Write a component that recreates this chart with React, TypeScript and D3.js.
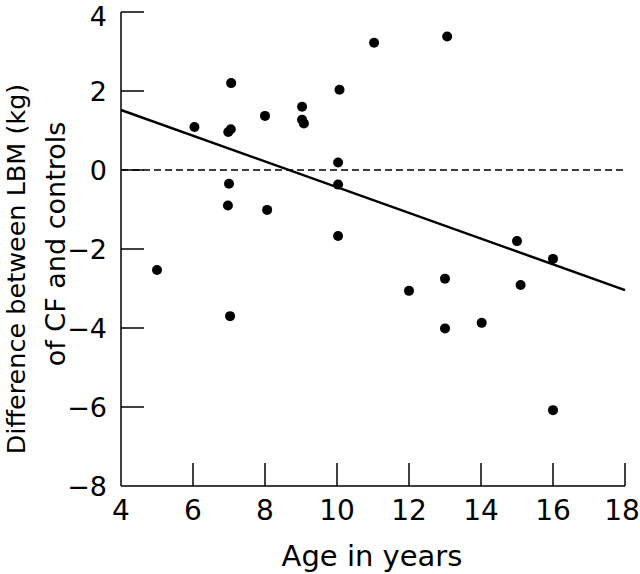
import React from "react";
import * as d3 from "d3";

const ages = [5, 6.04, 7.06, 7.05, 6.98, 7.0, 6.97, 7.03, 8.0, 8.06, 9.03, 9.03, 9.08, 10.07, 10.03, 10.03, 10.03, 11.03, 12.0, 13.06, 13.0, 13.0, 14.02, 15.0, 15.1, 16.0, 16.0];
const diffs = [-2.53, 1.09, 2.2, 1.03, 0.96, -0.35, -0.9, -3.7, 1.37, -1.01, 1.6, 1.27, 1.18, 2.03, 0.19, -0.37, -1.67, 3.22, -3.06, 3.38, -2.75, -4.01, -3.87, -1.8, -2.91, -2.25, -6.08];
const fitX = [4, 18];
const fitY = [1.52, -3.04];
const xTicks = [4, 6, 8, 10, 12, 14, 16, 18];
const yTicks = [4, 2, 0, -2, -4, -6, -8];

const W = 640, H = 574;
const FONT = "'DejaVu Sans', sans-serif";

export default function App() {
  const x = d3.scaleLinear().domain([4, 18]).range([121, 625]);
  const y = d3.scaleLinear().domain([-8, 4]).range([486, 12]);
  const line = d3.line<number>().x((_, i) => x(fitX[i])).y((d) => y(d));
  const tickLen = 23;
  const fmt = (v: number) => (v < 0 ? "\u2212" + Math.abs(v) : String(v));
  return (
    <svg width={W} height={H} style={{ position: "absolute", left: 0, top: 0, background: "#fff" }}>
      <rect x={0} y={0} width={W} height={H} fill="#fff" />
      <line x1={x(4)} x2={x(4)} y1={y(4)} y2={y(-8)} stroke="#000" strokeWidth={1.5} />
      <line x1={x(4)} x2={x(18)} y1={y(-8)} y2={y(-8)} stroke="#000" strokeWidth={1.5} />
      {yTicks.map((t) => (
        <g key={"y" + t}>
          {t !== -8 && <line x1={x(4)} x2={x(4) + tickLen} y1={y(t)} y2={y(t)} stroke="#000" strokeWidth={1.5} />}
          <text x={107} y={Math.max(y(t), 16)} dy="0.36em" textAnchor="end" fontFamily={FONT} fontSize={27} fill="#000">{fmt(t)}</text>
        </g>
      ))}
      {xTicks.map((t) => (
        <g key={"x" + t}>
          {t !== 4 && <line x1={x(t)} x2={x(t)} y1={y(-8)} y2={y(-8) - tickLen} stroke="#000" strokeWidth={1.5} />}
          <text x={Math.min(x(t), 622)} y={520} textAnchor="middle" fontFamily={FONT} fontSize={28} fill="#000">{t}</text>
        </g>
      ))}
      <line x1={x(4)} x2={x(18)} y1={y(0)} y2={y(0)} stroke="#000" strokeWidth={1.3} strokeDasharray="7,4" />
      <path d={line(fitY) || ""} fill="none" stroke="#000" strokeWidth={2.5} />
      {ages.map((a, i) => (
        <circle key={i} cx={x(a)} cy={y(diffs[i])} r={5} fill="#000" />
      ))}
      <text x={372} y={566} textAnchor="middle" fontFamily={FONT} fontSize={29} fill="#000">Age in years</text>
      <text transform="translate(25,269) rotate(-90)" textAnchor="middle" fontFamily={FONT} fontSize={25.5} fill="#000">Difference between LBM (kg)</text>
      <text transform="translate(65,244) rotate(-90)" textAnchor="middle" fontFamily={FONT} fontSize={27} fill="#000">of CF and controls</text>
    </svg>
  );
}
